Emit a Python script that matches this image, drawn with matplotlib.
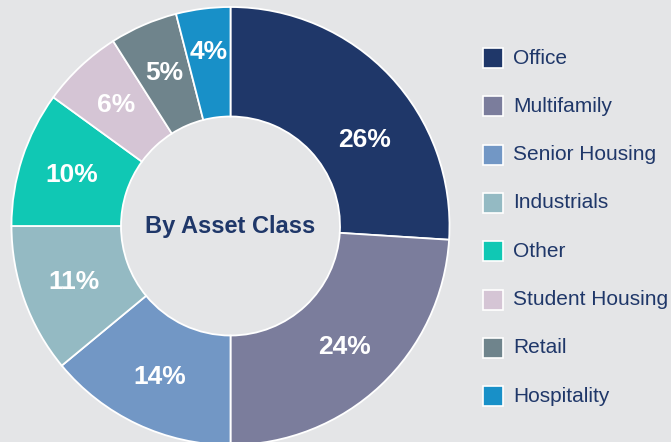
import matplotlib.pyplot as plt
import numpy as np
from matplotlib.patches import Rectangle

plt.rcParams['font.family'] = ['Liberation Sans', 'DejaVu Sans']

# data
categories = ['Office', 'Multifamily', 'Senior Housing', 'Industrials',
              'Other', 'Student Housing', 'Retail', 'Hospitality']
shares = [26, 24, 14, 11, 10, 6, 5, 4]
colors = ['#1f3769', '#7b7d9c', '#7297c5', '#94bac3',
          '#10c8b4', '#d5c5d5', '#6f848c', '#1890c8']

bg = '#e4e5e7'
navy = '#1f3769'

W, H = 671, 442
fig = plt.figure(figsize=(W / 100, H / 100), dpi=100, facecolor=bg)

# donut axes, placed in pixels (center 230.5,226 ; radius 219)
cx, cy, r = 230.5, 226, 219
ax = fig.add_axes([(cx - r) / W, (H - cy - r) / H, 2 * r / W, 2 * r / H])
ax.set_facecolor(bg)

wedges, _, pcts = ax.pie(
    shares, colors=colors, startangle=90, counterclock=False,
    radius=1, pctdistance=0.76,
    autopct=lambda p: f'{p:.0f}%',
    wedgeprops=dict(width=0.5, edgecolor='white', linewidth=1.3),
    textprops=dict(color='white', fontsize=19, fontweight='bold'))

# small label nudges (angle shift in deg, radius) like the original layout
nudges = {0: (-10.5, 0.73), 7: (0, 0.80)}
for i, (dang, rad) in nudges.items():
    w = wedges[i]
    ang = np.deg2rad((w.theta1 + w.theta2) / 2 + dang)
    pcts[i].set_position((rad * np.cos(ang), rad * np.sin(ang)))

ax.text(0, 0, 'By Asset Class', ha='center', va='center',
        fontsize=17, fontweight='bold', color=navy)
ax.set_xlim(-1, 1)
ax.set_ylim(-1, 1)
ax.set_aspect('equal')
ax.axis('off')

# legend drawn by hand
x0, y0, step, sq = 483, 58, 48.3, 20
for i, (cat, col) in enumerate(zip(categories, colors)):
    yc = y0 + i * step
    fig.add_artist(Rectangle((x0 / W, (H - yc - sq / 2) / H), sq / W, sq / H,
                             transform=fig.transFigure, facecolor=col,
                             edgecolor='white', linewidth=1.2))
    fig.text(513 / W, (H - yc) / H, cat, ha='left', va='center',
             fontsize=15, color=navy)

plt.savefig('out.png', dpi=100, facecolor=bg)
